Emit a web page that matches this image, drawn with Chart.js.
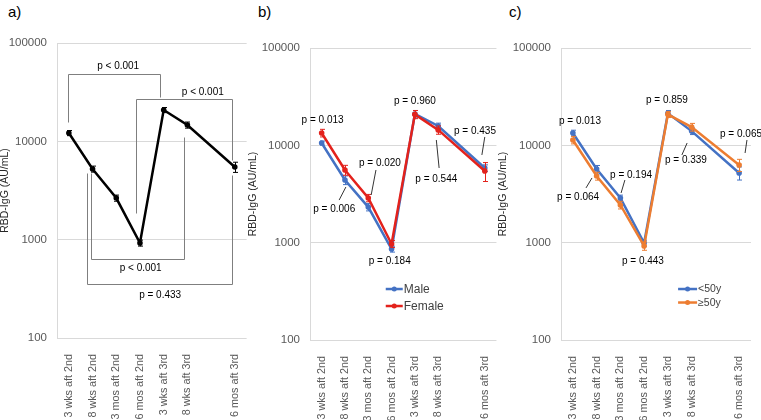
<!DOCTYPE html>
<html>
<head>
<meta charset="utf-8">
<script src="https://cdn.jsdelivr.net/npm/chart.js"></script>
<style>
  body { margin: 0; background: #fff; width: 761px; height: 420px; overflow: hidden; position: relative;
         font-family: "Liberation Sans", Arial, sans-serif; }
  .box { position: absolute; top: 0; height: 420px; }
  .lbl { position: absolute; top: 4px; font-size: 15px; line-height: 15px; color: #000; }
</style>
</head>
<body>
<div class="lbl" style="left:8px">a)</div>
<div class="lbl" style="left:258px">b)</div>
<div class="lbl" style="left:509px">c)</div>
<div class="box" style="left:0;width:256px"><canvas id="chartA"></canvas></div>
<div class="box" style="left:248px;width:258px"><canvas id="chartB"></canvas></div>
<div class="box" style="left:498px;width:263px"><canvas id="chartC"></canvas></div>
<script>
// time points (the blank one keeps the gap before 6 mos aft 3rd)
const categories = ['3 wks aft 2nd', '8 wks aft 2nd', '3 mos aft 2nd', '6 mos aft 2nd',
                    '3 wks aft 3rd', '8 wks aft 3rd', '', '6 mos aft 3rd'];
const yTicks = [100, 1000, 10000, 100000];

// RBD-IgG (AU/mL) and error
const allGmt = [12150, 5230, 2650, 925, 20830, 14660, null, 5480];
const allErr = [730, 370, 190, 65, 1250, 1050, null, 650];

const maleGmt = [10570, 4400, 2320, 860, 21000, 15800, null, 5850];
const maleErr = [500, 450, 200, 60, 1800, 1100, null, 450];
const femaleGmt = [13400, 5580, 2880, 970, 20800, 14400, null, 5450];
const femaleErr = [1200, 650, 250, 80, 2000, 1400, null, 1200];

const youngGmt = [13400, 5710, 2880, 990, 21300, 14000, null, 5200];
const youngErr = [900, 500, 200, 70, 1500, 1100, null, 800];
const olderGmt = [11350, 4840, 2440, 925, 20800, 15400, null, 6280];
const olderErr = [1000, 450, 220, 90, 1500, 1400, null, 900];

// p-values: [text, x (category index), y (AU/mL)]
const notesA = [
  ['p < 0.001', 2.08, 58400],
  ['p < 0.001', 5.65, 31700],
  ['p < 0.001', 3.03, 515],
  ['p = 0.433', 3.85, 274]
];
// brackets: [x1, x2, level, end y1, end y2]
const bracketsA = [
  [-0.05, 3.85, 48400, 15700, 28200],
  [2.82, 6.88, 26900, 1870, 6460],
  [0.94, 4.87, 636, 4760, 11070],
  [0.77, 6.88, 354, 4760, 4550]
];
const notesB = [
  ['p = 0.013', 0.04, 18200],
  ['p = 0.006', 0.54, 2220],
  ['p = 0.020', 2.5, 6580],
  ['p = 0.184', 2.92, 648],
  ['p = 0.960', 4.0, 28500],
  ['p = 0.544', 4.92, 4510],
  ['p = 0.435', 6.58, 14000]
];
const leadersB = [
  [1.04, 3730, 0.75, 2740],
  [2.33, 5580, 2.125, 3090],
  [4.92, 11350, 5.04, 5850],
  [7.0, 12190, 6.875, 7960]
];
const notesC = [
  ['p = 0.013', 0.30, 17800],
  ['p = 0.064', 0.22, 2940],
  ['p = 0.194', 2.45, 4960],
  ['p = 0.443', 2.95, 648],
  ['p = 0.859', 3.96, 29200],
  ['p = 0.339', 4.76, 7070],
  ['p = 0.065', 7.08, 13070]
];
const leadersC = [
  [0.805, 4620, 0.553, 3650],
  [2.19, 4400, 2.03, 3240],
  [4.81, 10570, 4.59, 7960],
  [7.33, 11350, 7.25, 8340]
];

const FONT = '"Liberation Sans", Arial, sans-serif';

function overlay(cfg) {
  return {
    id: 'overlay',
    afterDatasetDraw(chart, args) {
      const ds = chart.data.datasets[args.index];
      const xs = chart.scales.x, ys = chart.scales.y, ctx = chart.ctx;
      ctx.save();
      ctx.strokeStyle = ds.borderColor;
      ctx.lineWidth = 1;
      ds.data.forEach((v, i) => {
        if (v == null) return;
        const e = ds.errors[i];
        const px = Math.round(xs.getPixelForValue(i)) + 0.5;
        const t = ys.getPixelForValue(v + e), b = ys.getPixelForValue(v - e);
        ctx.beginPath();
        ctx.moveTo(px, t); ctx.lineTo(px, b);
        ctx.moveTo(px - 2.5, t); ctx.lineTo(px + 2.5, t);
        ctx.moveTo(px - 2.5, b); ctx.lineTo(px + 2.5, b);
        ctx.stroke();
      });
      ctx.restore();
    },
    afterDraw(chart) {
      const xs = chart.scales.x, ys = chart.scales.y, ctx = chart.ctx;
      const X = v => Math.round(xs.getPixelForValue(v)) + 0.5;
      const Y = v => Math.round(ys.getPixelForValue(v)) + 0.5;
      ctx.save();
      // brackets
      ctx.strokeStyle = '#7f7f7f';
      ctx.lineWidth = 1;
      (cfg.brackets || []).forEach(b => {
        ctx.beginPath();
        ctx.moveTo(X(b[0]), Y(b[3]));
        ctx.lineTo(X(b[0]), Y(b[2]));
        ctx.lineTo(X(b[1]), Y(b[2]));
        ctx.lineTo(X(b[1]), Y(b[4]));
        ctx.stroke();
      });
      // leader lines
      ctx.strokeStyle = '#000';
      ctx.lineWidth = 0.8;
      (cfg.leaders || []).forEach(l => {
        ctx.beginPath();
        ctx.moveTo(xs.getPixelForValue(l[0]), ys.getPixelForValue(l[1]));
        ctx.lineTo(xs.getPixelForValue(l[2]), ys.getPixelForValue(l[3]));
        ctx.stroke();
      });
      // p-values
      ctx.fillStyle = '#000';
      ctx.font = '10px ' + FONT;
      ctx.textAlign = 'center';
      ctx.textBaseline = 'middle';
      (cfg.notes || []).forEach(n => {
        ctx.fillText(n[0], xs.getPixelForValue(n[1]), ys.getPixelForValue(n[2]));
      });
      // legend
      if (cfg.legend) {
        const lg = cfg.legend;
        const lx = xs.getPixelForValue(lg.x);
        let ly = ys.getPixelForValue(lg.y);
        ctx.textAlign = 'left';
        ctx.font = lg.size + 'px ' + FONT;
        chart.data.datasets.forEach(ds => {
          ctx.strokeStyle = ds.borderColor;
          ctx.fillStyle = ds.borderColor;
          ctx.lineWidth = 2.5;
          ctx.beginPath();
          ctx.moveTo(lx, ly); ctx.lineTo(lx + lg.len, ly);
          ctx.stroke();
          ctx.beginPath();
          ctx.arc(lx + lg.len / 2, ly, 2.5, 0, Math.PI * 2);
          ctx.fill();
          ctx.fillStyle = '#404040';
          ctx.fillText(ds.label, lx + lg.len + 1, ly + 0.5);
          ly += lg.gap;
        });
      }
      ctx.restore();
    }
  };
}

function series(label, data, errors, color, order) {
  return {
    label: label, data: data, errors: errors, order: order,
    borderColor: color, backgroundColor: color,
    pointBackgroundColor: color, pointBorderColor: color,
    borderWidth: 2.5, pointRadius: 2.8, pointBorderWidth: 0, pointHoverRadius: 2.8,
    spanGaps: true, tension: 0
  };
}

function makeChart(id, datasets, cfg) {
  new Chart(document.getElementById(id), {
    type: 'line',
    data: { labels: categories, datasets: datasets },
    options: {
      responsive: true,
      maintainAspectRatio: false,
      animation: false,
      layout: { padding: { top: cfg.top, right: cfg.right, bottom: 0, left: 0 } },
      plugins: { legend: { display: false }, tooltip: { enabled: false } },
      scales: {
        x: {
          type: 'category',
          offset: true,
          grid: { display: false },
          border: { display: false },
          ticks: {
            autoSkip: false, minRotation: 90, maxRotation: 90, padding: 8,
            color: '#595959', font: { family: FONT, size: 10.8 }
          },
          afterFit: s => { s.height = cfg.xHeight; }
        },
        y: {
          type: 'logarithmic',
          min: 100,
          max: 100000,
          grid: { color: '#d9d9d9', drawTicks: false },
          border: { display: true, color: '#d9d9d9' },
          ticks: {
            padding: 10, color: '#595959', font: { family: FONT, size: 11.5 },
            callback: v => String(v)
          },
          afterBuildTicks: s => { s.ticks = yTicks.map(v => ({ value: v })); },
          title: {
            display: true, text: 'RBD-IgG (AU/mL)', color: '#262626',
            font: { family: FONT, size: 10.5 }, padding: { top: -1, bottom: 0 }
          },
          afterFit: s => { s.width = cfg.yWidth; }
        }
      }
    },
    plugins: [overlay(cfg)]
  });
}

makeChart('chartA', [
  series('All', allGmt, allErr, '#000000', 0)
], { top: 43, right: 4, yWidth: 57, xHeight: 82, notes: notesA, brackets: bracketsA });

makeChart('chartB', [
  series('Male', maleGmt, maleErr, '#4472C4', 1),
  series('Female', femaleGmt, femaleErr, '#E3221C', 0)
], { top: 48, right: 4, yWidth: 62, xHeight: 80, notes: notesB, leaders: leadersB,
     legend: { x: 2.75, y: 334, size: 12, gap: 17, len: 17 } });

makeChart('chartC', [
  series('<50y', youngGmt, youngErr, '#4472C4', 1),
  series('≥50y', olderGmt, olderErr, '#ED7D31', 0)
], { top: 48, right: 10, yWidth: 63, xHeight: 80, notes: notesC, leaders: leadersC,
     legend: { x: 4.43, y: 334, size: 10.5, gap: 13.5, len: 19 } });
</script>
</body>
</html>
